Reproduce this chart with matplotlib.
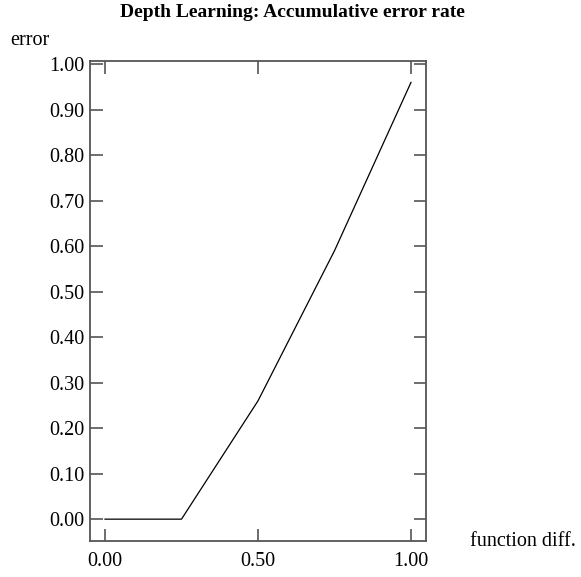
import matplotlib
matplotlib.use("Agg")
import matplotlib.pyplot as plt

plt.rcParams['font.family'] = ['Liberation Serif', 'DejaVu Serif']

diff = [0.0, 0.25, 0.5, 0.75, 1.0]
error = [0.0, 0.0, 0.26, 0.59, 0.96]
xticks = [0.0, 0.5, 1.0]
yticks = [0.0, 0.1, 0.2, 0.3, 0.4, 0.5, 0.6, 0.7, 0.8, 0.9, 1.0]

fig = plt.figure(figsize=(5.81, 5.77), dpi=100)
ax = fig.add_axes([0.1549, 0.0624, 0.5783, 0.8319])
ax.plot(diff, error, color='black', lw=0.9)

ax.set_xlim(-0.049, 1.049)
ax.set_ylim(-0.048, 1.007)
ax.set_xticks(xticks)
ax.set_xticklabels(['%.2f' % v for v in xticks])
ax.set_yticks(yticks)
ax.set_yticklabels(['%.2f' % v for v in yticks])
ax.tick_params(direction='in', length=9, width=1.2, color='#555555',
               labelsize=14.5, top=True, right=True)
ax.tick_params(axis='y', pad=4)
ax.tick_params(axis='x', pad=8)
for s in ax.spines.values():
    s.set_color('#555555')
    s.set_linewidth(1.3)

fig.text(0.503, 0.978, 'Depth Learning: Accumulative error rate',
         ha='center', va='center', fontsize=14, fontweight='bold')
fig.text(0.017, 0.93, 'error', ha='left', va='center', fontsize=14.5)
fig.text(0.809, 0.062, 'function diff.', ha='left', va='center', fontsize=14.5)

fig.savefig('out.png', dpi=100)
